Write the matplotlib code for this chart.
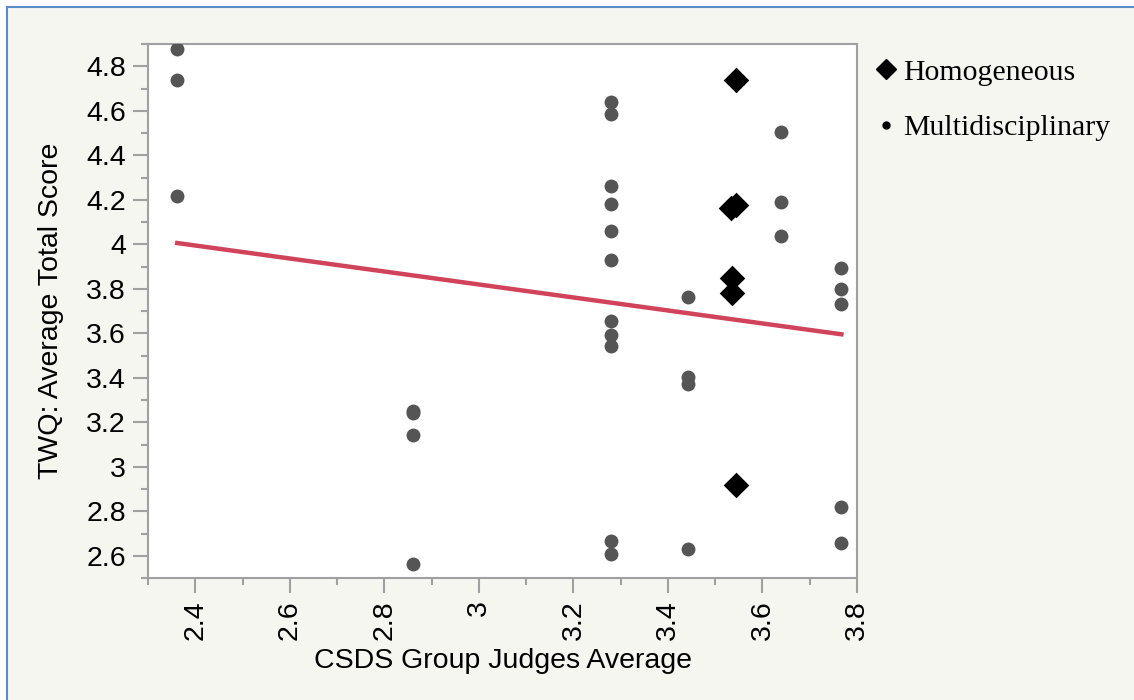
import numpy as np
import matplotlib
matplotlib.use("Agg")
import matplotlib.pyplot as plt
from matplotlib.lines import Line2D
from matplotlib.patches import Rectangle
from matplotlib.ticker import MultipleLocator, FuncFormatter

# データ
multi_x = [2.362, 2.362, 2.362,
           2.861, 2.861, 2.861, 2.861,
           3.280, 3.280, 3.280, 3.280, 3.280, 3.280, 3.280, 3.280, 3.280, 3.280, 3.280,
           3.443, 3.443, 3.443, 3.443,
           3.640, 3.640, 3.640,
           3.767, 3.767, 3.767, 3.767, 3.767]
multi_y = [4.876, 4.736, 4.216,
           3.250, 3.240, 3.143, 2.563,
           4.638, 4.587, 4.264, 4.183, 4.058, 3.931, 3.655, 3.591, 3.543, 2.668, 2.608,
           3.762, 3.402, 3.372, 2.632,
           4.505, 4.192, 4.037,
           3.894, 3.798, 3.732, 2.818, 2.656]

homo_x = [3.544, 3.534, 3.543, 3.535, 3.535, 3.544]
homo_y = [4.736, 4.162, 4.175, 3.849, 3.783, 2.917]

legend_labels = ["Homogeneous", "Multidisciplinary"]
x_label = "CSDS Group Judges Average"
y_label = "TWQ: Average Total Score"

gray = "#a0a0a0"

fig = plt.figure(figsize=(11.34, 7.0), dpi=100, facecolor="white")
# 背景と枠線
fig.add_artist(Rectangle((7 / 1134, 0), 1, 1 - 7 / 700, transform=fig.transFigure,
                         facecolor="#f6f6f1", edgecolor="none", zorder=-10))
fig.add_artist(Line2D([7 / 1134, 7 / 1134], [0, 1 - 7 / 700], transform=fig.transFigure,
                      color="#5b8bc8", lw=1.5))
fig.add_artist(Line2D([7 / 1134, 1], [1 - 7 / 700, 1 - 7 / 700], transform=fig.transFigure,
                      color="#5b8bc8", lw=1.5))

ax = fig.add_axes([148 / 1134, 1 - 578 / 700, (857 - 148) / 1134, (578 - 44) / 700])
ax.set_facecolor("white")

# 回帰直線 (全データ)
all_x = np.array(multi_x + homo_x)
all_y = np.array(multi_y + homo_y)
slope, intercept = np.polyfit(all_x, all_y, 1)
fit_x = np.array([all_x.min(), all_x.max()])
ax.plot(fit_x, slope * fit_x + intercept, color="#d0435a", lw=3.2, zorder=2)

ax.scatter(multi_x, multi_y, s=100, marker="o", color="#555555", linewidths=0, zorder=3)
ax.scatter(homo_x, homo_y, s=170, marker="D", color="black", linewidths=0, zorder=4)

ax.set_xlim(2.3, 3.8)
ax.set_ylim(2.5, 4.9)
ax.xaxis.set_major_locator(MultipleLocator(0.2))
ax.xaxis.set_minor_locator(MultipleLocator(0.1))
ax.yaxis.set_major_locator(MultipleLocator(0.2))
ax.yaxis.set_minor_locator(MultipleLocator(0.1))
fmt = FuncFormatter(lambda v, p: f"{v:.1f}".rstrip("0").rstrip("."))
ax.xaxis.set_major_formatter(fmt)
ax.yaxis.set_major_formatter(fmt)

for s in ax.spines.values():
    s.set_color(gray)
    s.set_linewidth(1.5)
ax.tick_params(which="major", length=11, width=1.5, color=gray,
               labelsize=20.5, pad=5)
ax.tick_params(which="minor", length=5, width=1.5, color=gray)
ax.tick_params(axis="x", labelrotation=90)
for lab in ax.get_xticklabels() + ax.get_yticklabels():
    lab.set_fontfamily("Liberation Sans")

ax.set_xlabel(x_label, fontsize=20.5, family="Liberation Sans", labelpad=6)
ax.set_ylabel(y_label, fontsize=20.5, family="Liberation Sans", labelpad=16)

handles = [Line2D([], [], marker="D", color="black", linestyle="None", markersize=10.5),
           Line2D([], [], marker="o", color="black", linestyle="None", markersize=5)]
fig.legend(handles, legend_labels, loc="upper left",
           bbox_to_anchor=(861 / 1134, 1 - 44 / 700), frameon=False,
           prop={"family": "Liberation Serif", "size": 21.5},
           handlelength=0.7, handletextpad=0.2, labelspacing=0.95, borderpad=0)

fig.savefig("out.png", dpi=100, facecolor=fig.get_facecolor())
